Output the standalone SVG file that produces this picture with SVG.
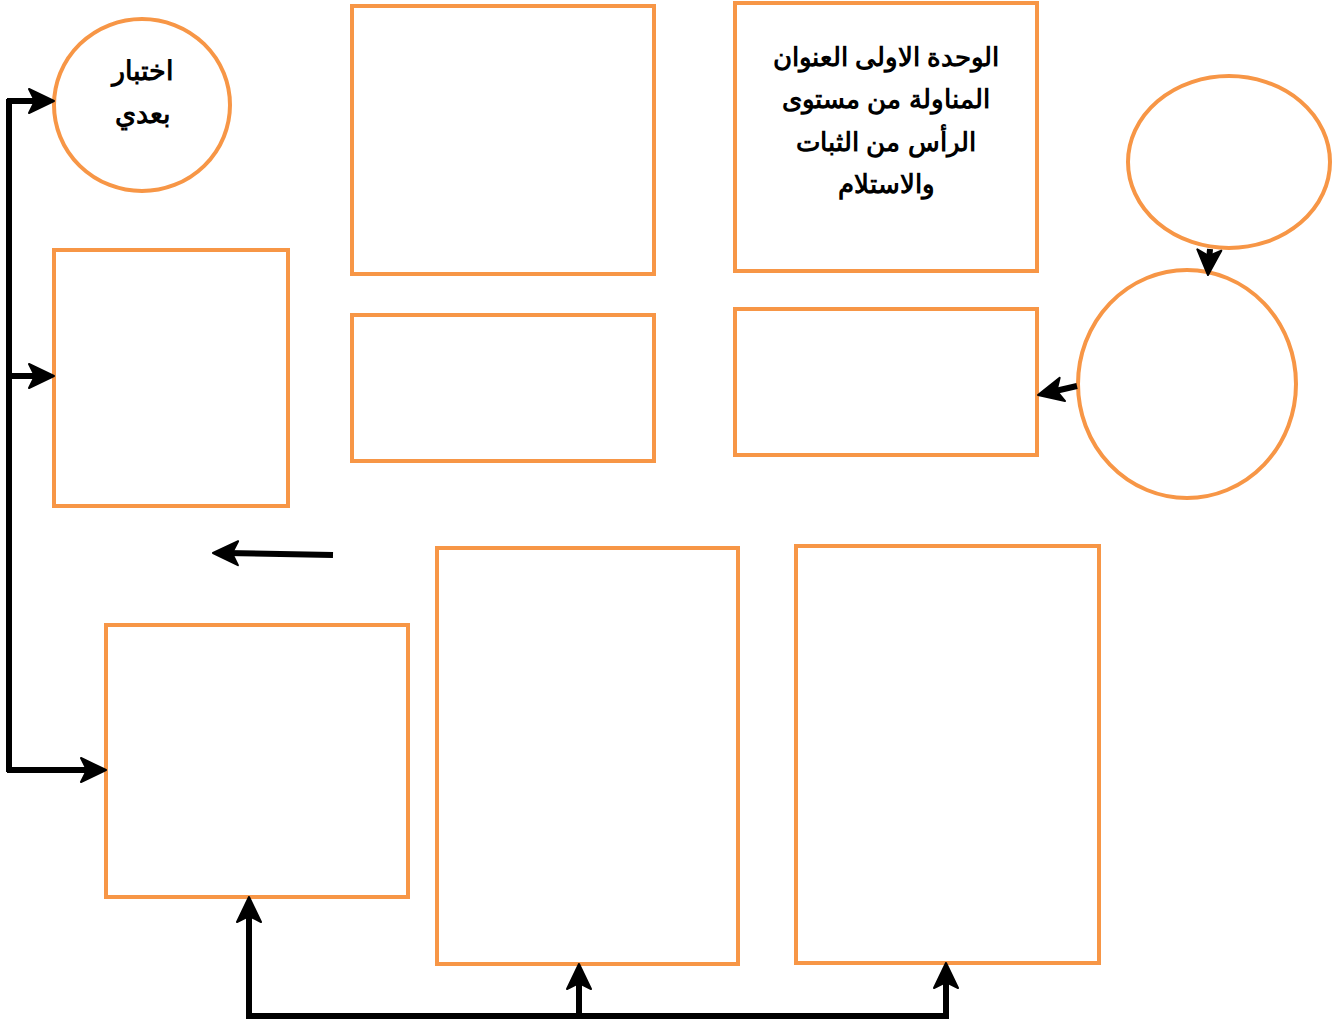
<svg xmlns="http://www.w3.org/2000/svg" xmlns:xlink="http://www.w3.org/1999/xlink" width="1343" height="1026" viewBox="0 0 1343 1026">
<style>
.n{fill:#fff;stroke:#F79646;stroke-width:4}
.c{fill:none;stroke:#000;stroke-width:6}
.h{fill:#000;stroke:#000;stroke-width:2;stroke-linejoin:round}
.t{font-family:"Liberation Sans",Arial,sans-serif;font-weight:bold;font-size:25.5px;fill:#000;text-anchor:middle}
</style>
<defs>
<path id="ah" class="h" d="M0,0 L-25,-12 L-19,0 L-25,12 Z"/>
</defs>
<rect width="1343" height="1026" fill="#fff"/>
<g id="post-test"><ellipse class="n" cx="142" cy="105" rx="88" ry="86"/>
<text class="t" direction="rtl" x="143" y="80" style="font-size:27px">اختبار</text>
<text class="t" direction="rtl" x="143" y="123" style="font-size:27px">بعدي</text></g>
<g id="box-top-mid"><rect class="n" x="352" y="6" width="302" height="268"/></g>
<g id="title"><rect class="n" x="735" y="3" width="302" height="268"/>
<text class="t" direction="rtl" x="886" y="66">الوحدة الاولى العنوان</text>
<text class="t" direction="rtl" x="886" y="108">المناولة من مستوى</text>
<text class="t" direction="rtl" x="886" y="151">الرأس من الثبات</text>
<text class="t" direction="rtl" x="886" y="193">والاستلام</text></g>
<g id="circle-top-right"><ellipse class="n" cx="1229" cy="162" rx="101" ry="86"/></g>
<g id="circle-mid-right"><ellipse class="n" cx="1187" cy="384" rx="109" ry="114"/></g>
<g id="box-left-mid"><rect class="n" x="54" y="250" width="234" height="256"/></g>
<g id="box-mid-small"><rect class="n" x="352" y="315" width="302" height="146"/></g>
<g id="box-right-small"><rect class="n" x="735" y="309" width="302" height="146"/></g>
<g id="box-bottom-left"><rect class="n" x="106" y="625" width="302" height="272"/></g>
<g id="box-bottom-mid"><rect class="n" x="437" y="548" width="301" height="416"/></g>
<g id="box-bottom-right"><rect class="n" x="796" y="546" width="303" height="417"/></g>
<g id="connectors">
<path class="c" d="M9,99 V772" stroke-width="5"/>
<path class="c" d="M7,101 H40"/>
<use xlink:href="#ah" href="#ah" transform="translate(54,101)"/>
<path class="c" d="M7,376 H40"/>
<use xlink:href="#ah" href="#ah" transform="translate(54,376)"/>
<path class="c" d="M7,770 H92" stroke-width="7"/>
<use xlink:href="#ah" href="#ah" transform="translate(106,770)"/>
<path class="c" d="M246,1016 H949" stroke-width="7"/>
<path class="c" d="M249,1016 V912" stroke-width="5"/>
<use xlink:href="#ah" href="#ah" transform="translate(249,897) rotate(-90)"/>
<path class="c" d="M579,1016 V978" stroke-width="5"/>
<use xlink:href="#ah" href="#ah" transform="translate(579,964) rotate(-90)"/>
<path class="c" d="M946,1016 V977" stroke-width="5"/>
<use xlink:href="#ah" href="#ah" transform="translate(946,963) rotate(-90)"/>
<path class="c" d="M333,555 L226,553" stroke-width="8"/>
<use xlink:href="#ah" href="#ah" transform="translate(213,553) rotate(180.5)"/>
<path class="c" d="M1077,386 L1051,392" stroke-width="8"/>
<use xlink:href="#ah" href="#ah" transform="translate(1038,395) rotate(167)"/>
<path class="c" d="M1210,249 L1209,262"/>
<use xlink:href="#ah" href="#ah" transform="translate(1208,275) rotate(93)"/>
</g>
</svg>
